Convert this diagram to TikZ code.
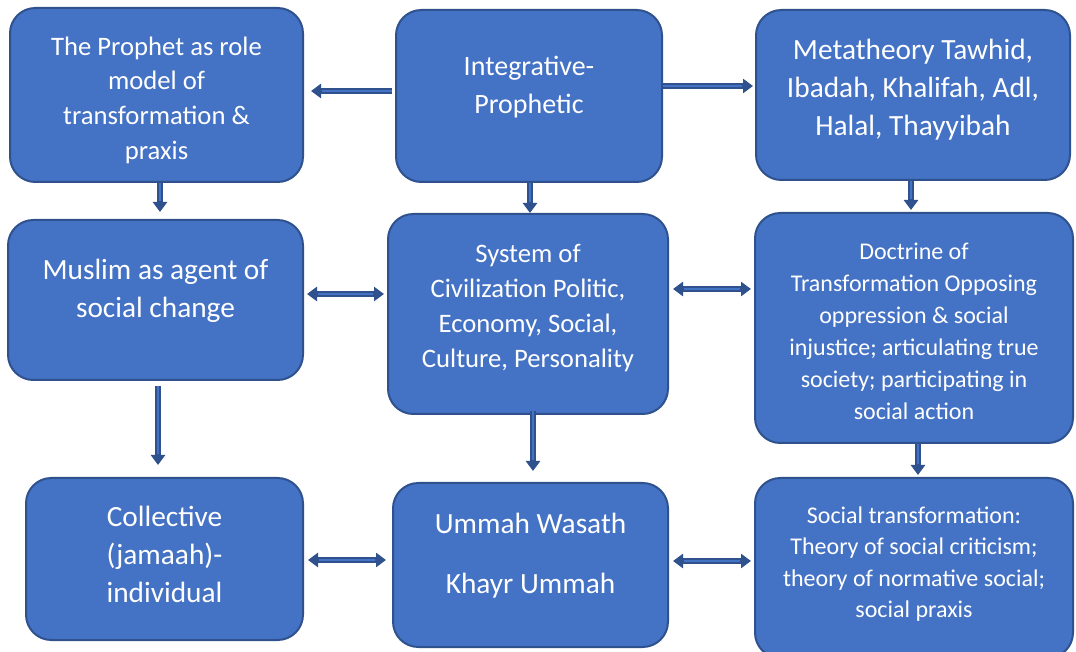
\documentclass[tikz,border=0pt]{standalone}
\usepackage{fontspec}
\setmainfont{Carlito}
\usetikzlibrary{arrows.meta,calc}
\definecolor{boxfill}{HTML}{4472C4}
\definecolor{boxline}{HTML}{2F528F}
\tikzset{
  card/.style={draw=boxline, fill=boxfill, line width=1.5pt, rounded corners=19pt, inner sep=0pt},
  txt/.style={text=white, align=center, inner sep=0pt},
  big/.style={font=\fontsize{22}{28.5}\selectfont},
  mid/.style={font=\fontsize{20}{26}\selectfont},
  small/.style={font=\fontsize{18}{24}\selectfont},
  arr/.style={draw=boxline, line width=4pt, -{Triangle[length=7.5pt,width=10.5pt]},
    postaction={draw=boxfill, line width=1.4pt, arrows=-, shorten >=8pt}},
  darr/.style={draw=boxline, line width=4pt,
    {Triangle[length=7.5pt,width=10.5pt]}-{Triangle[length=7.5pt,width=10.5pt]},
    postaction={draw=boxfill, line width=1.4pt, arrows=-, shorten >=8pt, shorten <=8pt}},
}
\begin{document}
\begin{tikzpicture}[x=0.75pt, y=-0.75pt]
\useasboundingbox[fill=white] (0,0) rectangle (1076,652);

% boxes
\node[card, minimum width=219.75pt, minimum height=130.5pt] (pro) at (156.5,95) {};
\node[card, minimum width=199.5pt, minimum height=129pt] (int) at (529,96) {};
\node[card, minimum width=235.5pt, minimum height=127.5pt] (met) at (913,95) {};
\node[card, minimum width=221.25pt, minimum height=120pt] (mus) at (155.5,300) {};
\node[card, minimum width=210pt, minimum height=150pt] (sys) at (528,314) {};
\node[card, minimum width=238.5pt, minimum height=172.5pt] (doc) at (914,328) {};
\node[card, minimum width=207.75pt, minimum height=121.5pt] (col) at (164.5,559) {};
\node[card, minimum width=206.25pt, minimum height=123pt] (umm) at (530.5,565) {};
\node[card, minimum width=238.5pt, minimum height=135pt] (soc) at (914,568) {};

% box texts
\node[txt, mid] (pro-t) at (pro |- 0,100)
  {The Prophet as role\\model of\\transformation \&\\praxis};
\node[txt, big, font=\fontsize{21}{28.5}\selectfont] (int-t) at (int |- 0,87)
  {Integrative-\\Prophetic};
\node[txt, big] (met-t) at (met |- 0,90)
  {Metatheory Tawhid,\\Ibadah, Khalifah, Adl,\\Halal, Thayyibah};
\node[txt, big] (mus-t) at (mus |- 0,291)
  {Muslim as agent of\\social change};
\node[txt, mid, font=\fontsize{20}{26.25}\selectfont] (sys-t) at (sys |- 0,308.5)
  {System of\\Civilization Politic,\\Economy, Social,\\Culture, Personality};
\node[txt, small] (doc-t) at (doc |- 0,331.5)
  {Doctrine of\\Transformation Opposing\\oppression \& social\\injustice; articulating true\\society; participating in\\social action};
\node[txt, big] (col-t) at (col |- 0,554)
  {Collective\\(jamaah)-\\individual};
\node[txt, big] (umm-t) at (umm |- 0,556)
  {Ummah Wasath\\[16.5pt]Khayr Ummah};
\node[txt, small, font=\fontsize{18}{23.5}\selectfont] (soc-t) at (soc |- 0,564)
  {Social transformation:\\Theory of social criticism;\\theory of normative social;\\social praxis};

% connectors
\draw[arr] ($(int.west|-0,91)+(-3,0)$) -- ($(pro.east|-0,91)+(7,0)$);
\draw[arr] (int.east|-0,86) -- ($(met.west|-0,86)+(-2,0)$);
\draw[arr] (pro.south -| 160,0) -- ($(mus.north -| 160,0)+(0,-7)$);
\draw[arr] (int.south -| 530,0) -- (sys.north -| 530,0);
\draw[arr] (met.south -| 911,0) -- ($(doc.north -| 911,0)+(0,-2)$);
\draw[arr] ($(mus.south -| 158,0)+(0,5)$) -- ($(col.north -| 158,0)+(0,-12)$);
\draw[arr] ($(sys.south -| 533,0)+(0,-4)$) -- ($(umm.north -| 533,0)+(0,-11)$);
\draw[arr] (doc.south -| 918,0) -- ($(soc.north -| 918,0)+(0,-2)$);
\draw[darr] ($(mus.east|-0,294)+(3,0)$) -- ($(sys.west|-0,294)+(-3,0)$);
\draw[darr] ($(sys.east|-0,289)+(4,0)$) -- ($(doc.west|-0,289)+(-3,0)$);
\draw[darr] ($(col.east|-0,560)+(4,0)$) -- ($(umm.west|-0,560)+(-6,0)$);
\draw[darr] ($(umm.east|-0,561)+(4,0)$) -- ($(soc.west|-0,561)+(-3,0)$);
\end{tikzpicture}
\end{document}
